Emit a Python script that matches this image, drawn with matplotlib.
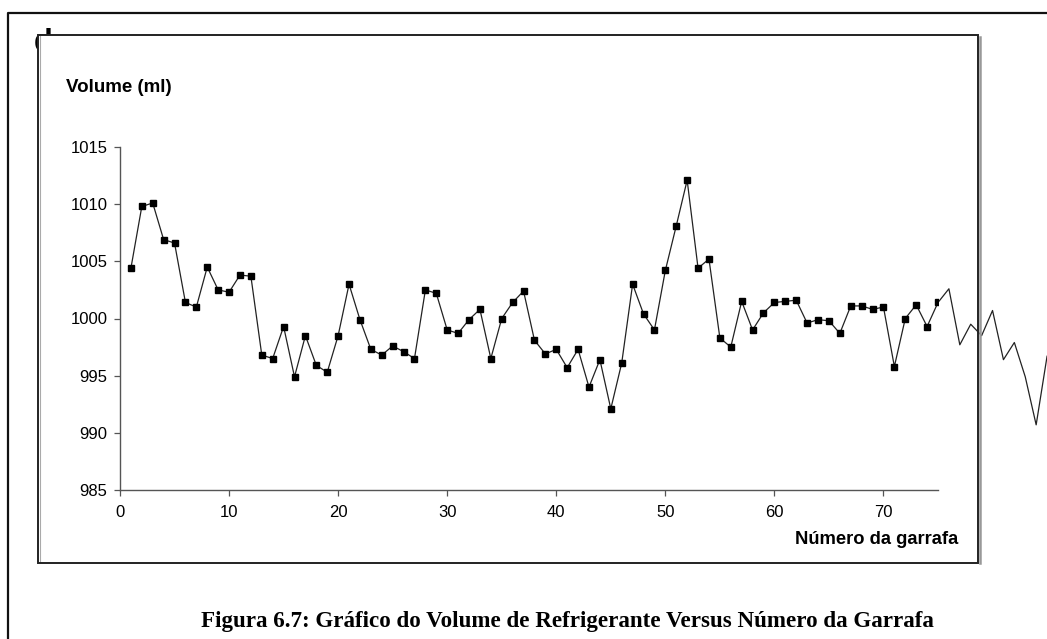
import matplotlib
matplotlib.use('Agg')
import matplotlib.pyplot as plt
from matplotlib.patches import Rectangle
from matplotlib.lines import Line2D

# volume (ml) per bottle
garrafa = list(range(1, 76))
volume = [1004.4, 1009.8, 1010.1, 1006.9, 1006.6, 1001.4, 1001.0, 1004.5, 1002.5, 1002.3,
          1003.8, 1003.7, 996.8, 996.5, 999.3, 994.9, 998.5, 995.9, 995.3, 998.5,
          1003.0, 999.9, 997.3, 996.8, 997.6, 997.1, 996.5, 1002.5, 1002.2, 999.0,
          998.7, 999.9, 1000.8, 996.5, 1000.0, 1001.4, 1002.4, 998.1, 996.9, 997.3,
          995.7, 997.3, 994.0, 996.4, 992.1, 996.1, 1003.0, 1000.4, 999.0, 1004.2,
          1008.1, 1012.1, 1004.4, 1005.2, 998.3, 997.5, 1001.5, 999.0, 1000.5, 1001.4,
          1001.5, 1001.6, 999.6, 999.9, 999.8, 998.7, 1001.1, 1001.1, 1000.8, 1001.0,
          995.8, 1000.0, 1001.2, 999.3, 1001.4]
# the series runs on past the axis (line only, no markers)
garrafa_extra = list(range(76, 86))
volume_extra = [1002.6, 997.7, 999.5, 998.5, 1000.7, 996.4, 997.9, 994.9, 990.7, 996.7]

xticks = [0, 10, 20, 30, 40, 50, 60, 70]
yticks = [985, 990, 995, 1000, 1005, 1010, 1015]

sans = 'Liberation Sans'
serif = 'Liberation Serif'

fig = plt.figure(figsize=(10.47, 6.39), dpi=100)
W, H = 1047, 639


def fx(px):
    return px / W


def fy(py):
    return 1 - py / H


# cut-off letter peeking out at the top-left corner of the chart frame
fig.text(fx(34), fy(51), 'd', fontsize=22, fontweight='bold', family=sans,
         color='black', zorder=-2)
fig.patches.append(Rectangle((fx(38), fy(563)), fx(978) - fx(38), fy(35) - fy(563),
                             transform=fig.transFigure, facecolor='white',
                             edgecolor='none', zorder=-1))

ax = fig.add_axes([fx(120), fy(490), fx(938) - fx(120), fy(147) - fy(490)])
ax.patch.set_visible(False)

ax.plot(garrafa + garrafa_extra, volume + volume_extra, color='#222222',
        lw=0.9, clip_on=False, zorder=2)
ax.plot(garrafa, volume, linestyle='none', marker='s', markersize=5.0,
        color='black', zorder=3)

ax.set_xlim(0, 75)
ax.set_ylim(985, 1015)
ax.set_xticks(xticks)
ax.set_yticks(yticks)
for s in ['top', 'right']:
    ax.spines[s].set_visible(False)
for s in ['left', 'bottom']:
    ax.spines[s].set_color('#555555')
    ax.spines[s].set_linewidth(1.0)
ax.tick_params(direction='out', length=4, width=0.9, color='#555555',
               labelsize=12, pad=5)
for lab in ax.get_xticklabels() + ax.get_yticklabels():
    lab.set_family(sans)
ax.tick_params(axis='x', pad=7)

fig.text(fx(66), fy(87), 'Volume (ml)', fontsize=13.5, fontweight='bold',
         family=sans, va='center', ha='left')
fig.text(fx(958), fy(540), 'Número da garrafa', fontsize=13.2, fontweight='bold',
         family=sans, va='center', ha='right')

# chart frame with a grey shadow on the right and bottom
fig.patches.append(Rectangle((fx(38), fy(563)), fx(978) - fx(38), fy(35) - fy(563),
                             transform=fig.transFigure, fill=False,
                             edgecolor='#222222', lw=1.4, zorder=1))
fig.lines.append(Line2D([fx(979.5), fx(979.5)], [fy(37), fy(563)],
                        transform=fig.transFigure, color='#999999', lw=1.8, zorder=1))
fig.lines.append(Line2D([fx(40), fx(40)], [fy(36), fy(562)],
                        transform=fig.transFigure, color='#aaaaaa', lw=0.8, zorder=1))

# outer page box
fig.lines.append(Line2D([fx(8), fx(8), 1], [0, fy(13), fy(13)],
                        transform=fig.transFigure, color='#111111', lw=1.6, zorder=1))

fig.text(fx(567), fy(621),
         'Figura 6.7: Gráfico do Volume de Refrigerante Versus Número da Garrafa',
         fontsize=16.6, fontweight='bold', family=serif, ha='center', va='center')

fig.savefig('out.png', dpi=100)
